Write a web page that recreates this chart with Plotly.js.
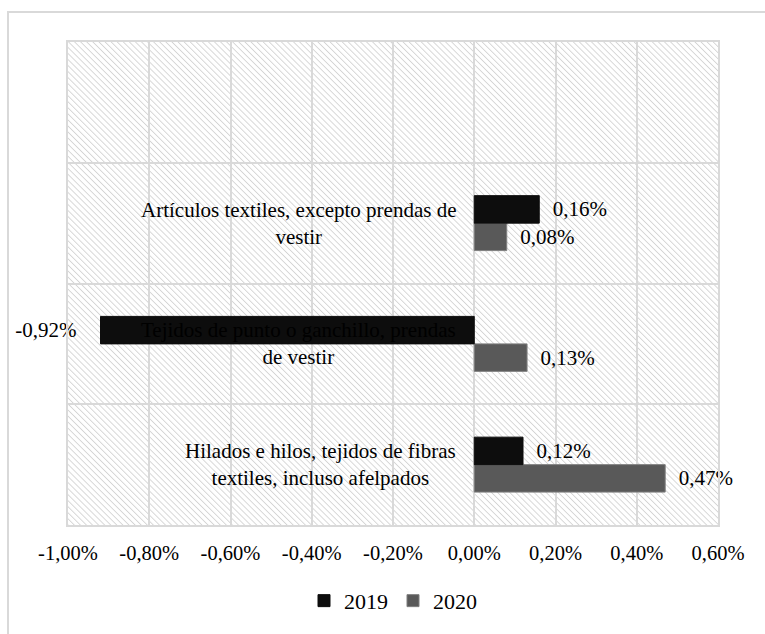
<!DOCTYPE html>
<html>
<head>
<meta charset="utf-8">
<script src="https://cdn.plot.ly/plotly-3.0.1.min.js"></script>
<style>
  html, body { margin: 0; padding: 0; background: #ffffff; }
  #wrap { position: relative; width: 765px; height: 634px; overflow: hidden; }
  #chart { position: absolute; left: 0; top: 0; width: 765px; height: 634px; }
  #frame { position: absolute; left: 7px; top: 11px; width: 800px; height: 700px;
           border-left: 2px solid #d9d9d9; border-top: 2px solid #d9d9d9; pointer-events: none; }
</style>
</head>
<body>
<div id="wrap">
  <div id="chart"></div>
  <div id="frame"></div>
</div>
<script>
// Categories (bottom to top); the top slot is empty in the original
const categories = [
  "Hilados e hilos, tejidos de fibras<br>textiles, incluso afelpados",
  "Tejidos de punto o ganchillo, prendas<br>de vestir",
  "Artículos textiles, excepto prendas de<br>vestir",
  " "
];
const seriesNames = ["2019", "2020"];
const values2019 = [0.12, -0.92, 0.16];
const values2020 = [0.47, 0.13, 0.08];
const xTickVals = [-1.0, -0.8, -0.6, -0.4, -0.2, 0.0, 0.2, 0.4, 0.6];
const xTickText = ["-1,00%", "-0,80%", "-0,60%", "-0,40%", "-0,20%", "0,00%", "0,20%", "0,40%", "0,60%"];

const FONT = "Liberation Serif";
const FS = 21;

function fmt(v) {
  const s = v.toFixed(2).replace(".", ",") + "%";
  return v < 0 ? s + "\u00a0\u00a0\u00a0\u00a0" : "\u00a0\u00a0" + s;
}

const cats = categories.slice(0, 3);

// 2020 first so that 2019 sits on top inside each group (horizontal bars stack bottom-up)
const traces = [
  {
    type: "bar", orientation: "h", name: seriesNames[1],
    y: cats, x: values2020,
    marker: { color: "#595959", line: { color: "#7f7f7f", width: 1 } },
    text: values2020.map(fmt), textposition: "outside", cliponaxis: false,
    textfont: { family: FONT, size: FS, color: "#000" },
    hoverinfo: "x+name"
  },
  {
    type: "bar", orientation: "h", name: seriesNames[0],
    y: cats, x: values2019,
    marker: { color: "#0d0d0d", line: { color: "#0d0d0d", width: 1 } },
    text: values2019.map(fmt), textposition: "outside", cliponaxis: false,
    textfont: { family: FONT, size: FS, color: "#000" },
    hoverinfo: "x+name"
  }
];

// hatched background pattern as an SVG image
const svg = '<svg xmlns="http://www.w3.org/2000/svg" width="650" height="486" viewBox="0 0 650 486" preserveAspectRatio="none">' +
  '<defs><pattern id="h" width="4.3" height="4.3" patternUnits="userSpaceOnUse" patternTransform="rotate(-45)">' +
  '<rect width="4.3" height="4.3" fill="#ffffff"/>' +
  '<line x1="0" y1="0" x2="0" y2="4.3" stroke="#d4d4d4" stroke-width="1.8"/></pattern></defs>' +
  '<rect width="650" height="486" fill="url(#h)"/></svg>';
const svgUri = "data:image/svg+xml;charset=utf-8," + encodeURIComponent(svg);

const annotations = cats.map(c => ({
  xref: "x", yref: "y", x: 0, y: c,
  xanchor: "right", yanchor: "middle", xshift: -16,
  text: c, showarrow: false, align: "center",
  font: { family: FONT, size: FS, color: "#000" }
}));

const layout = {
  width: 765, height: 634,
  margin: { l: 68, r: 47, t: 42, b: 107 },
  paper_bgcolor: "rgba(0,0,0,0)",
  plot_bgcolor: "#ffffff",
  font: { family: FONT, size: FS, color: "#000" },
  barmode: "group",
  bargap: 0.545,
  bargroupgap: 0,
  showlegend: true,
  legend: {
    orientation: "h", x: 0.5, xanchor: "center", y: -0.157, yanchor: "middle",
    font: { family: FONT, size: 22, color: "#000" },
    traceorder: "reversed", itemwidth: 30
  },
  xaxis: {
    range: [-1.0, 0.6],
    tickvals: xTickVals, ticktext: xTickText,
    showgrid: true, gridcolor: "#d9d9d9", gridwidth: 2,
    zeroline: false,
    showline: true, linecolor: "#d9d9d9", linewidth: 2, mirror: true,
    ticks: "outside", ticklen: 8, tickcolor: "rgba(0,0,0,0)",
    tickfont: { family: FONT, size: 20.5, color: "#000" },
    fixedrange: true
  },
  yaxis: {
    type: "category",
    categoryorder: "array", categoryarray: categories,
    range: [-0.5, 3.5],
    tickson: "boundaries",
    showgrid: true, gridcolor: "#d9d9d9", gridwidth: 2,
    showticklabels: false, ticks: "",
    showline: true, linecolor: "#d9d9d9", linewidth: 2, mirror: true,
    zeroline: false,
    fixedrange: true
  },
  images: [{
    source: svgUri, xref: "paper", yref: "paper",
    x: 0, y: 1, sizex: 1, sizey: 1, xanchor: "left", yanchor: "top",
    sizing: "stretch", layer: "below"
  }],
  annotations: annotations
};

Plotly.newPlot("chart", traces, layout, { displayModeBar: false, staticPlot: true });
</script>
</body>
</html>
